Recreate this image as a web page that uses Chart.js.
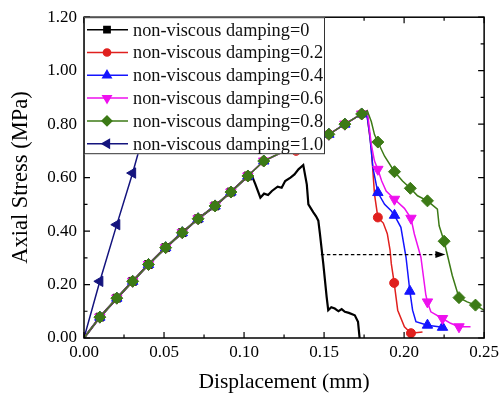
<!DOCTYPE html>
<html>
<head>
<meta charset="utf-8">
<script src="https://cdn.jsdelivr.net/npm/chart.js"></script>
<style>
  html, body { margin: 0; padding: 0; background: #fff; }
  canvas { display: block; }
</style>
</head>
<body>
<canvas id="stressChart" width="503" height="399"></canvas>
<script>
const FONT = "'Liberation Serif', 'Times New Roman', serif";

// --- DATA ---
const xTicks = [0, 0.05, 0.1, 0.15, 0.2, 0.25];
const yTicks = [0, 0.2, 0.4, 0.6, 0.8, 1.0, 1.2];

// linear rise shared by damping 0 ... 0.8
const rampX = [0, 0.0099, 0.0205, 0.0304, 0.0403, 0.051, 0.0614, 0.0713, 0.0819, 0.0918, 0.1024];
const rampY = [0, 0.078, 0.149, 0.212, 0.275, 0.338, 0.394, 0.446, 0.494, 0.546, 0.606];
const rampM = [0, 1, 1, 1, 1, 1, 1, 1, 1, 1, 1];

// damping = 0 (noisy branch)
const d0X = [0.105, 0.1071, 0.1102, 0.1125, 0.115, 0.1174, 0.121, 0.1235, 0.1257, 0.129, 0.1315, 0.134, 0.137, 0.1392, 0.1402, 0.1433, 0.145, 0.1464, 0.1474, 0.1495, 0.1516, 0.1526, 0.1545, 0.1567, 0.159, 0.161, 0.163, 0.1655, 0.1692, 0.1712, 0.1722];
const d0Y = [0.606, 0.575, 0.525, 0.54, 0.535, 0.55, 0.566, 0.562, 0.587, 0.6, 0.612, 0.631, 0.647, 0.575, 0.5, 0.47, 0.455, 0.439, 0.39, 0.278, 0.154, 0.104, 0.115, 0.11, 0.1, 0.108, 0.098, 0.094, 0.085, 0.061, 0.0];
const d0M = d0X.map(() => 0);

// damping = 0.2
const d2X = [0.1123, 0.122, 0.1325, 0.1428, 0.153, 0.163, 0.1735, 0.1765, 0.1795, 0.1815, 0.1836, 0.187, 0.1895, 0.1912, 0.192, 0.1938, 0.196, 0.2002, 0.2043, 0.2115];
const d2Y = [0.662, 0.69, 0.70, 0.74, 0.762, 0.8, 0.838, 0.848, 0.711, 0.538, 0.451, 0.43, 0.39, 0.33, 0.278, 0.206, 0.104, 0.042, 0.018, 0.022];
const d2M = [1, 0, 1, 0, 1, 1, 1, 0, 0, 0, 1, 0, 0, 0, 0, 1, 0, 0, 1, 0];

// damping = 0.4
const d4X = [0.1123, 0.122, 0.1325, 0.1428, 0.153, 0.163, 0.1735, 0.1765, 0.1785, 0.1805, 0.1836, 0.1878, 0.1919, 0.194, 0.198, 0.2012, 0.2036, 0.2053, 0.2074, 0.2146, 0.224, 0.2255];
const d4Y = [0.662, 0.69, 0.715, 0.74, 0.762, 0.8, 0.838, 0.848, 0.761, 0.637, 0.544, 0.5, 0.476, 0.459, 0.414, 0.302, 0.175, 0.104, 0.061, 0.048, 0.04, 0.04];
const d4M = [1, 0, 0, 0, 1, 1, 1, 0, 0, 0, 1, 0, 0, 1, 0, 0, 1, 0, 0, 1, 1, 0];

// damping = 0.6
const d6X = [0.1123, 0.122, 0.1325, 0.1428, 0.153, 0.163, 0.1735, 0.177, 0.1795, 0.1815, 0.1836, 0.186, 0.1888, 0.194, 0.2002, 0.2043, 0.2064, 0.2105, 0.2136, 0.2146, 0.2167, 0.224, 0.2291, 0.2343, 0.2415];
const d6Y = [0.662, 0.69, 0.715, 0.74, 0.762, 0.8, 0.838, 0.85, 0.724, 0.662, 0.631, 0.587, 0.55, 0.519, 0.485, 0.448, 0.389, 0.302, 0.16, 0.135, 0.098, 0.073, 0.055, 0.042, 0.042];
const d6M = [1, 0, 0, 0, 1, 1, 1, 0, 0, 0, 1, 0, 0, 1, 0, 1, 0, 0, 0, 1, 0, 1, 0, 1, 0];

// damping = 0.8
const d8X = [0.1123, 0.122, 0.1325, 0.1428, 0.153, 0.163, 0.1735, 0.177, 0.1795, 0.1815, 0.1836, 0.1878, 0.194, 0.199, 0.2039, 0.2084, 0.2146, 0.2208, 0.2219, 0.225, 0.2301, 0.2343, 0.2394, 0.2446, 0.2498];
const d8Y = [0.662, 0.69, 0.715, 0.74, 0.762, 0.8, 0.838, 0.85, 0.81, 0.761, 0.733, 0.68, 0.622, 0.587, 0.56, 0.532, 0.513, 0.482, 0.42, 0.362, 0.234, 0.151, 0.135, 0.123, 0.104];
const d8M = [1, 0, 0, 0, 1, 1, 1, 0, 0, 0, 1, 0, 1, 0, 1, 0, 1, 0, 0, 1, 0, 1, 0, 1, 0];

// damping = 1.0 (runs up behind the legend)
const d10X = [0, 0.0099, 0.0205, 0.0304, 0.0403, 0.0475];
const d10Y = [0, 0.212, 0.424, 0.617, 0.83, 0.98];
const d10M = [0, 1, 1, 1, 1, 0];

// dashed arrow between the two failure branches
const arrowX = [0.148, 0.2258];
const arrowY = [0.312, 0.312];

// --- BUILD DATASETS ---
function pts(xs, ys) {
  return xs.map((x, i) => ({ x, y: ys[i] }));
}

function series(label, color, style, rotation, radius, xs, ys, marks, order, width) {
  return {
    label,
    data: pts(xs, ys),
    borderColor: color,
    backgroundColor: color,
    borderWidth: width || 1.5,
    pointStyle: style,
    rotation,
    pointRadius: marks.map((m) => (m ? radius : 0)),
    pointBorderWidth: 1,
    pointHoverRadius: 0,
    tension: 0,
    order,
    _radius: radius,
  };
}

const datasets = [
  series("non-viscous damping=0", "#000000", "rect", 0, 5.5,
    rampX.concat(d0X), rampY.concat(d0Y), rampM.concat(d0M), 4, 2.2),
  series("non-viscous damping=0.2", "#e0201e", "circle", 0, 4.5,
    rampX.concat(d2X), rampY.concat(d2Y), rampM.concat(d2M), 3),
  series("non-viscous damping=0.4", "#1414ff", "triangle", 0, 6,
    rampX.concat(d4X), rampY.concat(d4Y), rampM.concat(d4M), 2),
  series("non-viscous damping=0.6", "#ee10ee", "triangle", 180, 6,
    rampX.concat(d6X), rampY.concat(d6Y), rampM.concat(d6M), 1),
  series("non-viscous damping=0.8", "#3c7a16", "rectRot", 0, 6,
    rampX.concat(d8X), rampY.concat(d8Y), rampM.concat(d8M), 0),
  series("non-viscous damping=1.0", "#14147e", "triangle", 270, 6,
    d10X, d10Y, d10M, 5),
];

// --- DECORATION: frame, inward ticks, arrow, legend box ---
function tickMarks(ctx, a, x, y) {
  const major = 6, minor = 3.5;
  ctx.strokeStyle = "#000";
  ctx.lineWidth = 1.2;
  ctx.beginPath();
  for (let i = 0; i < xTicks.length; i++) {
    const v = xTicks[i];
    const px = x.getPixelForValue(v);
    ctx.moveTo(px, a.bottom); ctx.lineTo(px, a.bottom - major);
    ctx.moveTo(px, a.top); ctx.lineTo(px, a.top + major);
    if (i < xTicks.length - 1) {
      const pm = x.getPixelForValue((v + xTicks[i + 1]) / 2);
      ctx.moveTo(pm, a.bottom); ctx.lineTo(pm, a.bottom - minor);
      ctx.moveTo(pm, a.top); ctx.lineTo(pm, a.top + minor);
    }
  }
  for (let i = 0; i < yTicks.length; i++) {
    const v = yTicks[i];
    const py = y.getPixelForValue(v);
    ctx.moveTo(a.left, py); ctx.lineTo(a.left + major, py);
    ctx.moveTo(a.right, py); ctx.lineTo(a.right - major, py);
    if (i < yTicks.length - 1) {
      const pm = y.getPixelForValue((v + yTicks[i + 1]) / 2);
      ctx.moveTo(a.left, pm); ctx.lineTo(a.left + minor, pm);
      ctx.moveTo(a.right, pm); ctx.lineTo(a.right - minor, pm);
    }
  }
  ctx.stroke();
}

function drawArrow(ctx, x, y) {
  const x0 = x.getPixelForValue(arrowX[0]);
  const x1 = x.getPixelForValue(arrowX[1]);
  const py = y.getPixelForValue(arrowY[0]);
  ctx.strokeStyle = "#000";
  ctx.lineWidth = 1.1;
  ctx.setLineDash([3.5, 2.5]);
  ctx.beginPath();
  ctx.moveTo(x0, py);
  ctx.lineTo(x1 - 8, py);
  ctx.stroke();
  ctx.setLineDash([]);
  ctx.fillStyle = "#000";
  ctx.beginPath();
  ctx.moveTo(x1, py);
  ctx.lineTo(x1 - 10, py - 3.5);
  ctx.lineTo(x1 - 10, py + 3.5);
  ctx.closePath();
  ctx.fill();
}

function drawLegend(ctx, a, chart) {
  const left = a.left, top = a.top, w = 241, h = 137;
  ctx.fillStyle = "#fff";
  ctx.fillRect(left, top, w, h);
  ctx.strokeStyle = "#333";
  ctx.lineWidth = 1;
  ctx.strokeRect(left + 0.5, top + 0.5, w - 1, h - 1);
  ctx.font = "18.3px " + FONT;
  ctx.textBaseline = "middle";
  ctx.textAlign = "left";
  chart.data.datasets.forEach((ds, i) => {
    const ry = top + 12.5 + i * 22.8;
    ctx.strokeStyle = ds.borderColor;
    ctx.lineWidth = 1.5;
    ctx.beginPath();
    ctx.moveTo(left + 3, ry);
    ctx.lineTo(left + 44, ry);
    ctx.stroke();
    ctx.fillStyle = ds.backgroundColor;
    Chart.helpers.drawPoint(ctx, {
      pointStyle: ds.pointStyle,
      rotation: ds.rotation,
      radius: ds._radius * 0.8,
      borderWidth: 1,
    }, left + 23, ry);
    ctx.fillStyle = "#111";
    ctx.fillText(ds.label, left + 49, ry + 1);
  });
}

const decorPlugin = {
  id: "decor",
  afterDatasetsDraw(chart) {
    const { ctx, chartArea: a, scales: { x, y } } = chart;
    ctx.save();
    drawArrow(ctx, x, y);
    tickMarks(ctx, a, x, y);
    ctx.strokeStyle = "#000";
    ctx.lineWidth = 1.5;
    ctx.strokeRect(a.left, a.top, a.right - a.left, a.bottom - a.top);
    drawLegend(ctx, a, chart);
    ctx.restore();
  },
};

// --- CHART ---
const ctx = document.getElementById("stressChart").getContext("2d");
new Chart(ctx, {
  type: "line",
  data: { datasets },
  options: {
    responsive: false,
    animation: false,
    devicePixelRatio: 1,
    layout: { padding: { left: 0, right: 16, top: 15, bottom: 0 } },
    plugins: { legend: { display: false }, tooltip: { enabled: false } },
    scales: {
      x: {
        type: "linear",
        min: 0,
        max: 0.25,
        afterBuildTicks: (s) => { s.ticks = xTicks.map((v) => ({ value: v })); },
        afterFit: (s) => { s.height = 61; },
        grid: { display: false, drawTicks: false },
        border: { display: false },
        ticks: {
          autoSkip: false,
          maxRotation: 0,
          padding: 4,
          color: "#000",
          font: { family: FONT, size: 17 },
          callback: (v) => Number(v).toFixed(2),
        },
        title: {
          display: true,
          text: "Displacement (mm)",
          color: "#000",
          font: { family: FONT, size: 21.5 },
          padding: { top: 0, bottom: 4 },
        },
      },
      y: {
        type: "linear",
        min: 0,
        max: 1.2,
        afterBuildTicks: (s) => { s.ticks = yTicks.map((v) => ({ value: v })); },
        afterFit: (s) => { s.width = 84; },
        grid: { display: false, drawTicks: false },
        border: { display: false },
        ticks: {
          autoSkip: false,
          padding: 7,
          color: "#000",
          font: { family: FONT, size: 17 },
          callback: (v) => Number(v).toFixed(2),
        },
        title: {
          display: true,
          text: "Axial Stress (MPa)",
          color: "#000",
          font: { family: FONT, size: 22.5 },
          padding: { top: 8, bottom: 0 },
        },
      },
    },
  },
  plugins: [decorPlugin],
});
</script>
</body>
</html>
